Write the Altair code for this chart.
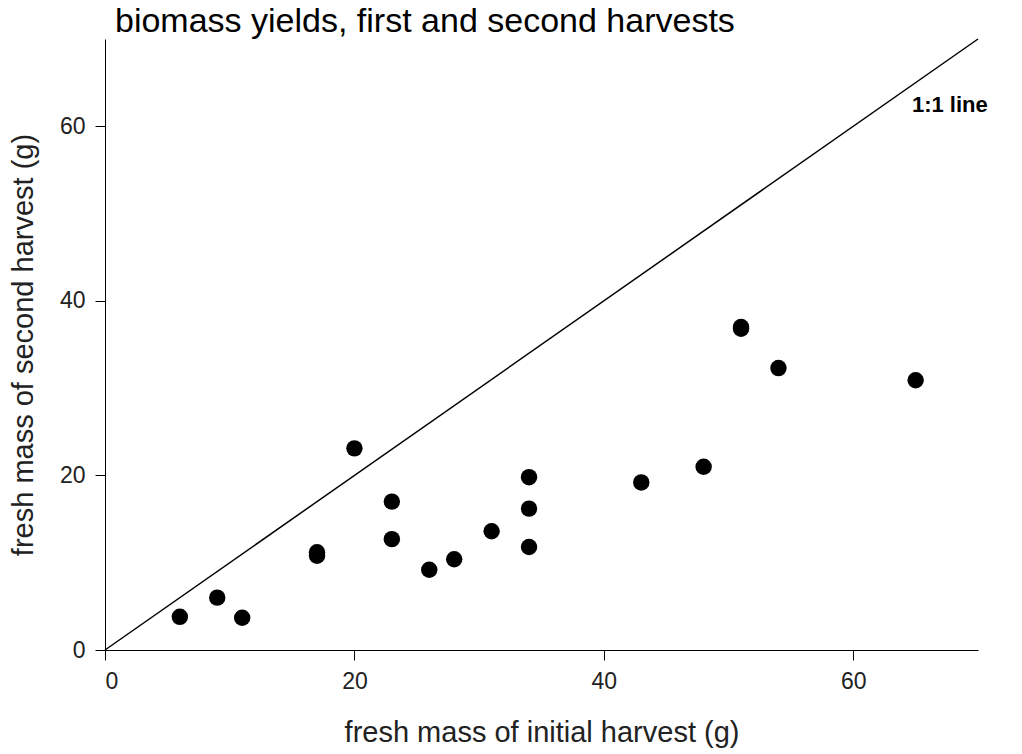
import altair as alt
import pandas as pd

initial = [6, 9, 11, 17, 17, 20, 23, 23, 26, 28, 31, 34, 34, 34, 43, 48, 51, 51, 54, 65]
second = [3.8, 6.0, 3.7, 11.2, 10.8, 23.1, 17.0, 12.7, 9.2, 10.4, 13.6, 19.8, 16.2, 11.8, 19.2, 21.0, 37.0, 36.8, 32.3, 30.9]
line_x = [0, 70]
line_y = [0, 70]
label_text = ["1:1 line"]
label_x = [64.7]
label_y = [62.4]
ticks = [0, 20, 40, 60]
title_text = ["biomass yields, first and second harvests"]

FONT = "Liberation Sans"

pts = pd.DataFrame({"x": initial, "y": second})
ln = pd.DataFrame({"x": line_x, "y": line_y})
lab = pd.DataFrame({"x": label_x, "y": label_y, "t": label_text})
ttl = pd.DataFrame({"t": title_text})

xs = alt.Scale(domain=[0, 70], nice=False, zero=True)
ys = alt.Scale(domain=[0, 70], nice=False, zero=True)

xax = alt.Axis(title="fresh mass of initial harvest (g)", values=ticks, grid=False,
               labelFontSize=23, titleFontSize=29, tickSize=10, labelPadding=10,
               titlePadding=25, domainColor="black", tickColor="black",
               labelColor="#222", titleColor="#222", titleFontWeight="normal",
               labelFont=FONT, titleFont=FONT)
yax = alt.Axis(title="fresh mass of second harvest (g)", values=ticks, grid=False,
               labelFontSize=23, titleFontSize=29, tickSize=10, labelPadding=10,
               titlePadding=21, domainColor="black", tickColor="black",
               labelColor="#222", titleColor="#222", titleFontWeight="normal",
               labelFont=FONT, titleFont=FONT)

line = alt.Chart(ln).mark_line(color="black", strokeWidth=1.5, clip=False).encode(
    x=alt.X("x:Q", scale=xs, axis=xax),
    y=alt.Y("y:Q", scale=ys, axis=yax),
)
points = alt.Chart(pts).mark_circle(color="black", opacity=1, size=270).encode(
    x=alt.X("x:Q", scale=xs),
    y=alt.Y("y:Q", scale=ys),
)
text = alt.Chart(lab).mark_text(fontSize=22, fontWeight="bold", align="left",
                                baseline="middle", color="black", font=FONT).encode(
    x=alt.X("x:Q", scale=xs),
    y=alt.Y("y:Q", scale=ys),
    text="t:N",
)
title = alt.Chart(ttl).mark_text(fontSize=34, align="left", baseline="alphabetic",
                                 color="black", font=FONT).encode(
    x=alt.value(10),
    y=alt.value(-7),
    text="t:N",
)

chart = alt.layer(line, points, text, title).properties(
    width=873, height=611,
    autosize="none",
    padding={"left": 97, "top": 31, "right": 36, "bottom": 103},
).configure(font=FONT).configure_view(stroke=None)

chart.save("out.html", embed_options={"renderer": "svg", "actions": False})
